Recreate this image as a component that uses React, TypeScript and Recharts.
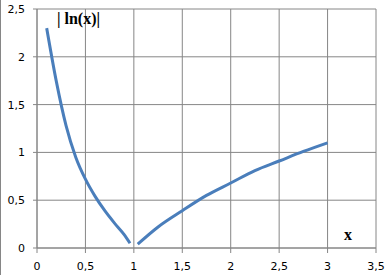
import { CartesianGrid, Line, LineChart, XAxis, YAxis } from "recharts"

const xValues = [0.1, 0.2, 0.3, 0.4, 0.5, 0.6, 0.7, 0.8, 0.9, 0.96, 1, 1.04, 1.25, 1.5, 1.75, 2, 2.25, 2.5, 2.75, 3]
const yValues = [2.3, 1.74, 1.28, 0.95, 0.72, 0.54, 0.39, 0.26, 0.14, 0.05, null, 0.04, 0.22, 0.39, 0.55, 0.68, 0.81, 0.91, 1.01, 1.1]
const xTicks = [0, 0.5, 1, 1.5, 2, 2.5, 3, 3.5]
const yTicks = [0, 0.5, 1, 1.5, 2, 2.5]

const chartData = xValues.map((x, i) => ({ x, y: yValues[i] }))

const fmt = (v: number) => String(v).replace(".", ",")
const gridColor = "#868686"
const tickStyle = { fontSize: 11, fill: "#000", fontFamily: "DejaVu Sans" }

export default function App() {
  return (
    <div
      style={{
        position: "absolute",
        left: 0,
        top: 0,
        width: 391,
        height: 275,
        background: "#fff",
        borderLeft: `1px solid ${gridColor}`,
        boxSizing: "border-box",
      }}
    >
      <LineChart width={390} height={275} data={chartData} margin={{ top: 9, right: 15, bottom: 0, left: 0 }}>
        <CartesianGrid stroke={gridColor} strokeWidth={1} />
        <XAxis
          type="number"
          dataKey="x"
          domain={[0, 3.5]}
          ticks={xTicks}
          tickFormatter={fmt}
          height={27}
          tickSize={5}
          tickMargin={9}
          stroke={gridColor}
          tick={tickStyle}
          interval={0}
        />
        <YAxis
          type="number"
          domain={[0, 2.5]}
          ticks={yTicks}
          tickFormatter={fmt}
          width={36}
          tickSize={4}
          tickMargin={8}
          stroke={gridColor}
          tick={tickStyle}
          interval={0}
        />
        <Line
          dataKey="y"
          type="monotone"
          stroke="#4a7ebb"
          strokeWidth={3}
          dot={false}
          connectNulls={false}
          isAnimationActive={false}
        />
      </LineChart>
      <span
        style={{
          position: "absolute",
          left: 56,
          top: 9,
          fontFamily: "Liberation Serif",
          fontWeight: "bold",
          fontSize: 16,
          lineHeight: "20px",
          whiteSpace: "pre",
        }}
      >
        | ln(x)|
      </span>
      <span
        style={{
          position: "absolute",
          left: 343,
          top: 225,
          fontFamily: "Liberation Serif",
          fontWeight: "bold",
          fontSize: 16,
          lineHeight: "20px",
        }}
      >
        x
      </span>
    </div>
  )
}
